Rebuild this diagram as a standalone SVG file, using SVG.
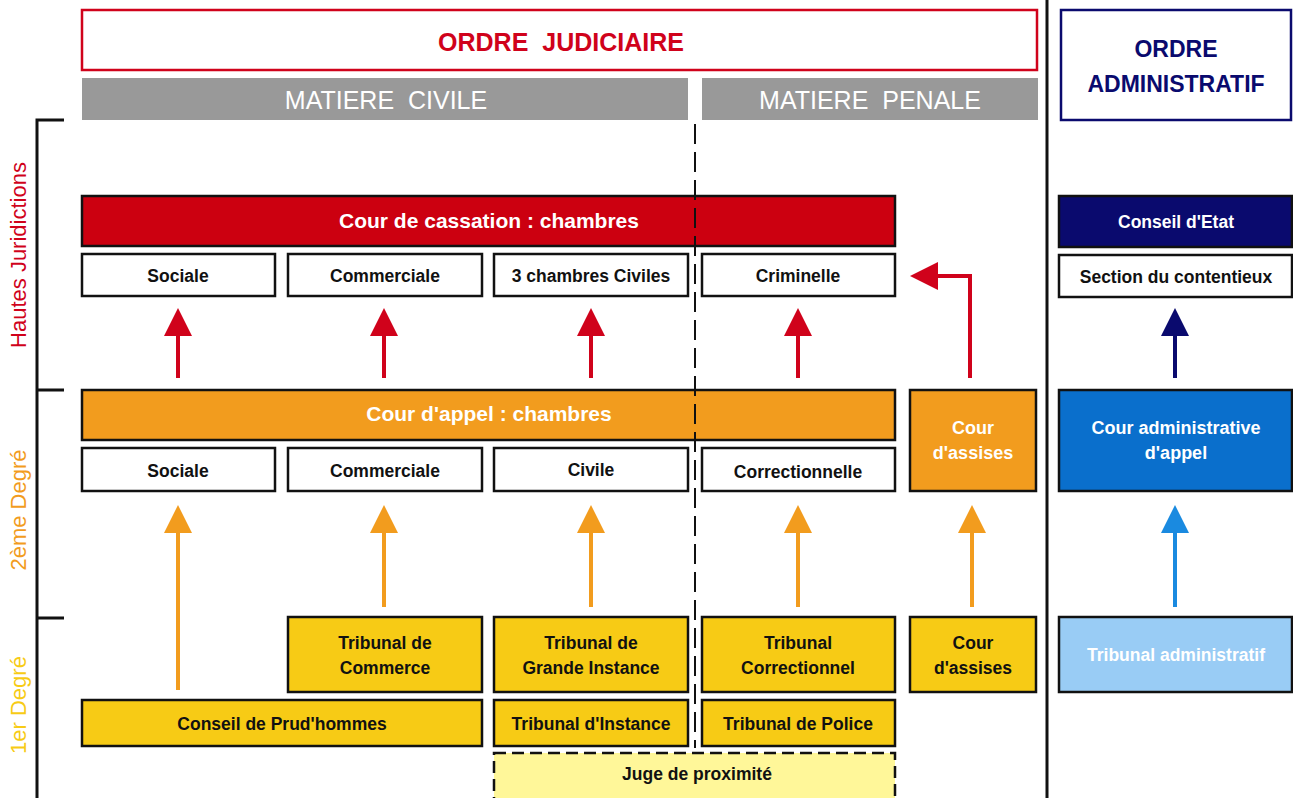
<svg xmlns="http://www.w3.org/2000/svg" width="1293" height="798" viewBox="0 0 1293 798">
<defs>
<style>
text{font-family:"Liberation Sans",Arial,sans-serif;text-anchor:middle}
.b{font-weight:bold;font-size:17.5px;fill:#111}
.bw{font-weight:bold;font-size:20px;fill:#fff}
.box{stroke:#111;stroke-width:2.5}
.white{fill:#fff}
.yel{fill:#F7CB15}
.org{fill:#F29C1E}
.gray{fill:#999}
.arr{stroke-width:4;fill:none}
</style>
<marker id="mr" markerWidth="7" markerHeight="7" refX="1" refY="3.5" orient="auto" markerUnits="strokeWidth"><path d="M0,0 L7,3.5 L0,7 Z" fill="#D0021B"/></marker>
<marker id="mo" markerWidth="7" markerHeight="7" refX="1" refY="3.5" orient="auto" markerUnits="strokeWidth"><path d="M0,0 L7,3.5 L0,7 Z" fill="#F29C1E"/></marker>
<marker id="mn" markerWidth="7" markerHeight="7" refX="1" refY="3.5" orient="auto" markerUnits="strokeWidth"><path d="M0,0 L7,3.5 L0,7 Z" fill="#0A0A6E"/></marker>
<marker id="mb" markerWidth="7" markerHeight="7" refX="1" refY="3.5" orient="auto" markerUnits="strokeWidth"><path d="M0,0 L7,3.5 L0,7 Z" fill="#1A8AE0"/></marker>
</defs>
<rect width="1293" height="798" fill="#fff"/>

<g id="frame">
<line x1="1047" y1="0" x2="1047" y2="798" stroke="#111" stroke-width="3"/>
<path d="M64,120 H37 V798 M37,390 H64 M37,618 H64" stroke="#111" stroke-width="3" fill="none"/>
<text transform="translate(26,255) rotate(-90)" style="font-size:22px;fill:#D0021B">Hautes Juridictions</text>
<text transform="translate(26,510) rotate(-90)" style="font-size:22px;fill:#F29C1E">2ème Degré</text>
<text transform="translate(26,705) rotate(-90)" style="font-size:22px;fill:#F7CB15">1er Degré</text>
</g>

<g id="ordre-judiciaire"><rect x="82" y="10" width="955" height="60" fill="#fff" stroke="#D0021B" stroke-width="2.5"/><text x="561" y="51" xml:space="preserve" style="font-size:25px;font-weight:bold;fill:#D0021B">ORDRE  JUDICIAIRE</text></g>
<g id="matiere-civile"><rect x="82" y="78" width="606" height="42" class="gray"/><text x="386" y="109" xml:space="preserve" style="font-size:25px;fill:#fff">MATIERE  CIVILE</text></g>
<g id="matiere-penale"><rect x="702" y="78" width="336" height="42" class="gray"/><text x="870" y="109" xml:space="preserve" style="font-size:25px;fill:#fff">MATIERE  PENALE</text></g>
<g id="ordre-administratif"><rect x="1061" y="10" width="230" height="110" fill="#fff" stroke="#0A0A6E" stroke-width="2.5"/><text x="1176" y="57" style="font-size:23px;font-weight:bold;fill:#0A0A6E">ORDRE</text><text x="1176" y="92" style="font-size:23px;font-weight:bold;fill:#0A0A6E">ADMINISTRATIF</text></g>

<g id="cour-cassation"><rect x="82" y="196" width="813" height="50" fill="#CC0010" class="box"/><text x="489" y="228" class="bw" style="font-size:21px">Cour de cassation : chambres</text></g>
<g id="cass-sociale"><rect x="82" y="254" width="193" height="42" class="box white"/><text x="178" y="282" class="b">Sociale</text></g>
<g id="cass-commerciale"><rect x="288" y="254" width="194" height="42" class="box white"/><text x="385" y="282" class="b">Commerciale</text></g>
<g id="cass-civiles"><rect x="494" y="254" width="194" height="42" class="box white"/><text x="591" y="282" class="b">3 chambres Civiles</text></g>
<g id="cass-criminelle"><rect x="702" y="254" width="193" height="42" class="box white"/><text x="798" y="282" class="b">Criminelle</text></g>

<g id="conseil-etat"><rect x="1059" y="196" width="233" height="51" fill="#0A0A6E" class="box"/><text x="1176" y="228" class="bw" style="font-size:17.5px">Conseil d'Etat</text></g>
<g id="section-contentieux"><rect x="1059" y="255" width="233" height="42" class="box white"/><text x="1176" y="283" class="b">Section du contentieux</text></g>

<g id="cour-appel"><rect x="82" y="390" width="813" height="50" class="box org"/><text x="489" y="421" class="bw" style="font-size:21px">Cour d'appel : chambres</text></g>
<g id="appel-sociale"><rect x="82" y="448" width="193" height="43" class="box white"/><text x="178" y="477" class="b">Sociale</text></g>
<g id="appel-commerciale"><rect x="288" y="448" width="194" height="43" class="box white"/><text x="385" y="477" class="b">Commerciale</text></g>
<g id="appel-civile"><rect x="494" y="448" width="194" height="43" class="box white"/><text x="591" y="476" class="b">Civile</text></g>
<g id="appel-correctionnelle"><rect x="702" y="448" width="193" height="43" class="box white"/><text x="798" y="478" class="b">Correctionnelle</text></g>
<g id="cour-assises-2"><rect x="910" y="390" width="126" height="101" class="box org"/><text x="973" y="434" class="bw" style="font-size:18px">Cour</text><text x="973" y="459" class="bw" style="font-size:18px">d'assises</text></g>
<g id="cour-admin-appel"><rect x="1059" y="390" width="233" height="101" fill="#0A6FCC" class="box"/><text x="1176" y="434" class="bw" style="font-size:18px">Cour administrative</text><text x="1176" y="459" class="bw" style="font-size:18px">d'appel</text></g>

<g id="trib-commerce"><rect x="288" y="617" width="194" height="75" class="box yel"/><text x="385" y="649" class="b">Tribunal de</text><text x="385" y="674" class="b">Commerce</text></g>
<g id="tgi"><rect x="494" y="617" width="194" height="75" class="box yel"/><text x="591" y="649" class="b">Tribunal de</text><text x="591" y="674" class="b">Grande Instance</text></g>
<g id="trib-correctionnel"><rect x="702" y="617" width="193" height="75" class="box yel"/><text x="798" y="649" class="b">Tribunal</text><text x="798" y="674" class="b">Correctionnel</text></g>
<g id="cour-assises-1"><rect x="910" y="617" width="126" height="75" class="box yel"/><text x="973" y="649" class="b">Cour</text><text x="973" y="674" class="b">d'assises</text></g>
<g id="trib-admin"><rect x="1059" y="617" width="233" height="75" fill="#99CCF5" class="box"/><text x="1176" y="661" class="bw" style="font-size:17.5px">Tribunal administratif</text></g>
<g id="prudhommes"><rect x="82" y="700" width="400" height="46" class="box yel"/><text x="282" y="730" class="b">Conseil de Prud'hommes</text></g>
<g id="trib-instance"><rect x="494" y="700" width="194" height="46" class="box yel"/><text x="591" y="730" class="b">Tribunal d'Instance</text></g>
<g id="trib-police"><rect x="702" y="700" width="193" height="46" class="box yel"/><text x="798" y="730" class="b">Tribunal de Police</text></g>
<g id="juge-proximite"><rect x="494" y="753" width="401" height="50" fill="#FFF799" stroke="#111" stroke-width="2.5" stroke-dasharray="12,6"/><text x="697" y="780" class="b">Juge de proximité</text></g>

<g id="divider">
<line x1="695" y1="124" x2="695" y2="748" stroke="#111" stroke-width="2" stroke-dasharray="20,8"/>
</g>

<g id="connectors">
<line x1="178" y1="378" x2="178" y2="332" class="arr" stroke="#D0021B" marker-end="url(#mr)"/>
<line x1="384" y1="378" x2="384" y2="332" class="arr" stroke="#D0021B" marker-end="url(#mr)"/>
<line x1="591" y1="378" x2="591" y2="332" class="arr" stroke="#D0021B" marker-end="url(#mr)"/>
<line x1="798" y1="378" x2="798" y2="332" class="arr" stroke="#D0021B" marker-end="url(#mr)"/>
<path d="M970,378 V276 H934" class="arr" stroke="#D0021B" marker-end="url(#mr)"/>
<line x1="1175" y1="378" x2="1175" y2="332" class="arr" stroke="#0A0A6E" marker-end="url(#mn)"/>
<line x1="178" y1="690" x2="178" y2="529" class="arr" stroke="#F29C1E" marker-end="url(#mo)"/>
<line x1="384" y1="607" x2="384" y2="529" class="arr" stroke="#F29C1E" marker-end="url(#mo)"/>
<line x1="591" y1="607" x2="591" y2="529" class="arr" stroke="#F29C1E" marker-end="url(#mo)"/>
<line x1="798" y1="607" x2="798" y2="529" class="arr" stroke="#F29C1E" marker-end="url(#mo)"/>
<line x1="972" y1="607" x2="972" y2="529" class="arr" stroke="#F29C1E" marker-end="url(#mo)"/>
<line x1="1175" y1="607" x2="1175" y2="529" class="arr" stroke="#1A8AE0" marker-end="url(#mb)"/>
</g>
</svg>
